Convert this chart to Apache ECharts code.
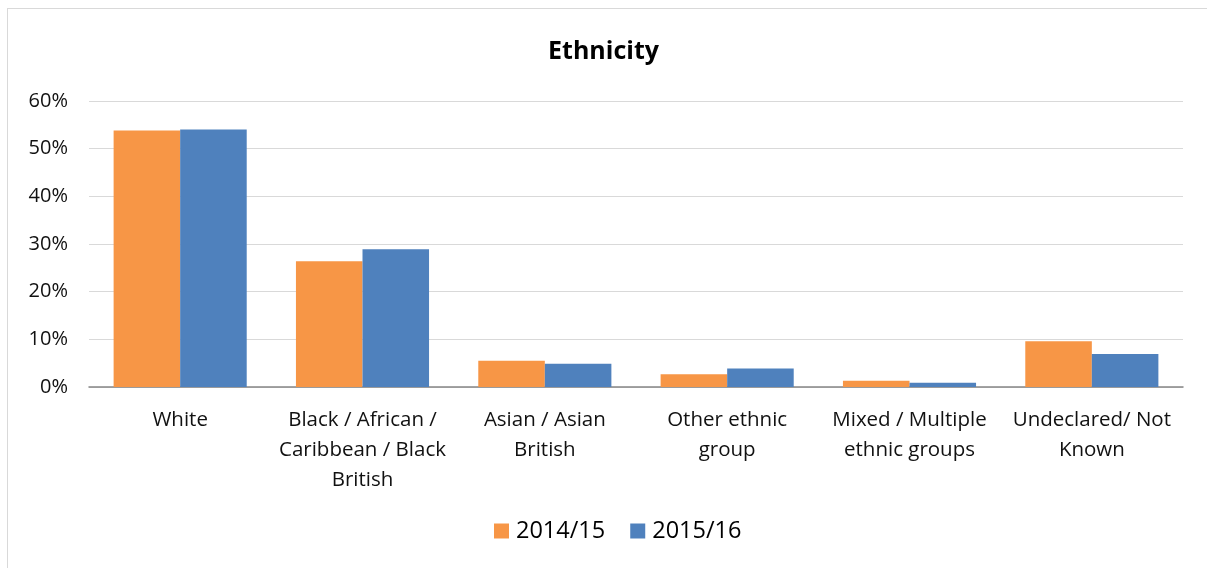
<!DOCTYPE html>
<html><head><meta charset="utf-8">
<script src="https://cdn.jsdelivr.net/npm/echarts@6/dist/echarts.min.js"></script>
<style>
html,body{margin:0;padding:0;background:#fff;}
#frame{position:absolute;left:7px;top:8px;width:1300px;height:700px;border:1.5px solid #d9d9d9;box-sizing:border-box;}
#c{position:absolute;left:0;top:0;width:1207px;height:568px;}
</style></head>
<body>
<div id="frame"></div>
<div id="c"></div>
<script>
const categories = ["White", "Black / African /\nCaribbean / Black\nBritish", "Asian / Asian\nBritish", "Other ethnic\ngroup", "Mixed / Multiple\nethnic groups", "Undeclared/ Not\nKnown"];
const series2014 = [53.8, 26.4, 5.5, 2.7, 1.3, 9.6];
const series2015 = [54.0, 28.9, 4.9, 3.9, 0.9, 6.9];
const seriesNames = ["2014/15", "2015/16"];
const yTicks = [0, 10, 20, 30, 40, 50, 60];

const font = "Open Sans, Noto Sans, sans-serif";
const chart = echarts.init(document.getElementById('c'));
chart.setOption({
  animation: false,
  title: {text: "Ethnicity", left: 'center', top: 34, textStyle: {fontFamily: font, fontSize: 25, fontWeight: 'bold', color: '#000'}},
  legend: {bottom: 20, left: 489, itemWidth: 15, itemHeight: 15, itemGap: 25, itemStyle: {borderWidth: 0}, icon: 'rect',
    textStyle: {fontFamily: font, fontSize: 23.5, color: '#000', padding: [0, 0, 0, 2]}, data: seriesNames},
  grid: {left: 89, right: 24, top: 101, bottom: 181},
  xAxis: {type: 'category', data: categories,
    axisLine: {lineStyle: {color: '#868686', width: 1.5}}, axisTick: {show: false},
    axisLabel: {fontFamily: font, fontSize: 20.5, color: '#111', lineHeight: 30, margin: 18, interval: 0}},
  yAxis: {type: 'value', min: yTicks[0], max: yTicks[yTicks.length-1], interval: 10,
    axisLine: {show: false}, axisTick: {show: false},
    splitLine: {lineStyle: {color: '#d9d9d9', width: 1.2}},
    axisLabel: {fontFamily: font, fontSize: 20, color: '#111', margin: 21, formatter: v => v + '%'}},
  series: [
    {name: seriesNames[0], type: 'bar', data: series2014, barGap: '0%', barCategoryGap: '27%', itemStyle: {color: '#f79646'}},
    {name: seriesNames[1], type: 'bar', data: series2015, barGap: '0%', barCategoryGap: '27%', itemStyle: {color: '#4f81bd'}}
  ]
});
</script>
</body></html>
